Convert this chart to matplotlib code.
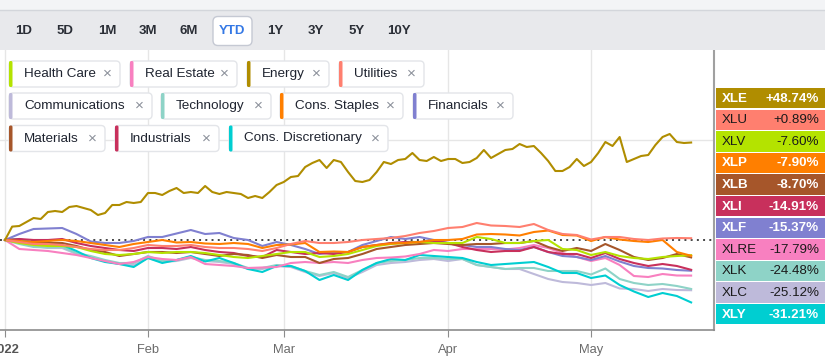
import numpy as np
import matplotlib
matplotlib.use('Agg')
import matplotlib.pyplot as plt
from matplotlib.patches import FancyBboxPatch, Rectangle

plt.rcParams['font.family'] = ['Liberation Sans', 'DejaVu Sans']

# YTD % change, Jan 3 .. May 20 2022 (trading-day index)
xle = [0, 6.7, 7.0, 9.0, 11.0, 10.5, 14.0, 14.5, 14.0, 16.5, 17.0, 16.0, 15.0, 12.5, 13.5,
       17.5, 17.5, 19.0, 18.5, 19.0, 23.5, 23.5, 22.5, 24.5, 26.0, 23.5, 24.0, 23.5, 27.0,
       24.0, 23.0, 24.0, 23.5, 23.0, 21.0, 22.0, 21.0, 24.0, 27.5, 29.0, 31.5, 32.0, 36.5,
       38.5, 40.0, 36.0, 40.0, 39.0, 34.0, 29.5, 29.0, 30.0, 34.0, 39.0, 38.0, 40.0, 40.5,
       43.5, 40.0, 39.5, 41.5, 39.5, 40.5, 40.5, 38.5, 39.0, 41.0, 45.0, 41.0, 43.0, 45.0,
       45.5, 48.0, 46.5, 47.0, 43.5, 39.5, 34.5, 34.5, 36.5, 40.5, 37.0, 39.0, 43.5, 49.0,
       47.0, 51.5, 39.0, 40.5, 42.0, 42.5, 47.5, 51.5, 53.0, 49.0, 48.5, 48.74]

# the other sectors, read every second trading day
xlu = [0, -1, -2, -2, -2.5, -3.5, -4.5, -5, -5, -4, -2.5, -3, -3, -2.5, -3.5, -4, -4, -4.5,
       -5.5, -4, -2, -0.5, -1.5, -1.5, -1, 0, 0.5, 1, 2, 3.5, 4.5, 6, 6.5, 8.5, 7.25, 7, 6.5,
       8, 5, 3, 2.5, 0.25, 1.5, 1.5, 0.5, 0, 0.75, 1, 0.89]
xlv = [0, -1.5, -2.5, -3, -3, -3.5, -5.5, -7, -7.5, -7, -6, -6.5, -6, -6, -6.5, -7.5, -8.5,
       -9, -8, -7, -6, -6, -8.5, -8, -7, -5, -3, -2, -1.5, -1, -1.5, -1.5, -1.5, 1.5, 0.5,
       -1.5, -1.5, -0.5, 0, -4.5, -5, -7.5, -6, -8, -9, -9.5, -8.5, -8, -7.6]
xlp = [0, -0.5, -1, -0.5, 0, -0.5, -1.5, -2.5, -3.5, -2, -1, 0, -1.25, -1, -1.75, -2, -1.5,
       -2, -4, -2.5, -2.25, -1.5, -6, -5.75, -6, -3.5, -2.5, -1.75, -1.5, -1, 0, 0, 0.5,
       2.75, 3, 2.75, 2.25, 4, 4.75, 2.5, 2.25, -0.5, 1.5, 0.25, -0.5, -1, 0, -6, -7.9]
xlb = [0, -1, -1.5, -1.5, -1.5, -3, -5, -6, -8, -7, -6, -6, -6.5, -6, -7, -8, -7, -7.5, -9,
       -7.5, -8.5, -8.5, -11.5, -9.5, -9, -7, -4.5, -3.5, -2.5, -2, -1.5, -2, -2.5, -2, -2,
       -1.5, -1.5, -0.5, -3.5, -5.5, -4, -5.5, -2, -5, -8.5, -10, -9, -7, -8.7]
xli = [0, 0.5, 0, 0, 0.5, -1.5, -3, -4, -5, -5.5, -4, -4, -4.5, -3.5, -5, -6, -6.5, -8, -8.5,
       -5, -6, -7, -6.5, -7, -6, -3.5, -2.5, -1.5, -1, -1, -0.5, -1.5, -3.5, -5, -6, -5.5,
       -5.5, -3.5, -6, -7, -7, -9, -6.5, -9.5, -11.5, -13, -12, -13, -14.91]
xlf = [0, 3.0, 5.5, 5.75, 6.0, 3.0, -0.75, -1.5, -1.5, -0.5, 1.5, 1.5, 3.25, 5.0, 3.0, 3.5,
       1.0, 0, -3, -1, -2.5, -4.5, -7, -6, -6, -2.5, -0.5, 1.5, 0.5, 1.5, 0, -1.5, -2.5, -3.5,
       -3.5, -4.5, -5, -3.5, -6, -8, -8.5, -10, -8, -10.75, -13, -14, -14.25, -15, -15.37]
xlre = [0, -4.5, -5, -5.5, -6.5, -7.5, -9, -10.5, -12, -11, -8.5, -9.5, -10, -8.5, -12, -12.5,
        -13, -14, -13.75, -13.5, -11.5, -11, -11.5, -11, -11.5, -10, -9, -8.75, -8.25, -7, -5,
        -5.5, -4.5, -4.5, -4.5, -4.75, -4, -2.5, -4, -6.5, -8.5, -10.5, -9, -12.5, -18, -18.5,
        -17, -17.75, -17.79]
xlk = [0, -2, -3.5, -3.75, -3.5, -6.5, -8, -10, -11.5, -11.5, -8, -10.5, -10, -8.5, -10,
       -10.5, -11.5, -14, -14, -12.5, -13, -15.5, -17.5, -16, -18.5, -15, -11.5, -10.5, -10,
       -9, -9, -9.5, -9.5, -12.5, -13.5, -14.5, -14, -14, -15.5, -15.5, -15.5, -17.25, -14.25,
       -19.5, -21.5, -22.5, -22, -23, -24.48]
xlc = [0, -1.5, -3, -4, -4, -7, -8.5, -10.5, -12, -12.5, -9, -11, -10.5, -9, -10.5, -11, -12,
       -14.5, -14.5, -13, -13.5, -16, -18, -16.5, -19, -16, -12.5, -11.5, -11, -10, -9.5,
       -10.5, -9.5, -12.5, -13.5, -14.5, -14.5, -17, -19.5, -21, -21.5, -22.5, -21.5, -24.25,
       -24.5, -25.5, -24.5, -25, -25.12]
xly = [0, 0.5, -1.25, -1, -2.5, -5.5, -9, -11, -12, -13.5, -9, -11.5, -10, -8, -10.75, -9,
       -11.5, -14.5, -16, -13, -13, -15.5, -20, -17.5, -20, -15, -11.5, -9.5, -10, -7.5, -8,
       -8.5, -9, -11, -12.5, -12, -11.5, -11, -13.5, -16.5, -16.5, -19, -17.75, -22.5, -25.75,
       -28.5, -26.5, -28, -31.21]

tickers = ['XLE', 'XLU', 'XLV', 'XLP', 'XLB', 'XLI', 'XLF', 'XLRE', 'XLK', 'XLC', 'XLY']
series = [xle, xlu, xlv, xlp, xlb, xli, xlf, xlre, xlk, xlc, xly]
colors = ['#b08d00', '#ff7f6f', '#b4e300', '#ff7f00', '#a6562a', '#c8305c',
          '#8080d0', '#f880c0', '#8ed3c7', '#bebada', '#00ced1']
light_bg = ['XLU', 'XLV', 'XLRE', 'XLK', 'XLC']

# legend chips: (name, color) per row
chip_rows = [
    [('Health Care', '#b4e300'), ('Real Estate', '#f880c0'), ('Energy', '#b08d00'),
     ('Utilities', '#ff7f6f')],
    [('Communications', '#bebada'), ('Technology', '#8ed3c7'), ('Cons. Staples', '#ff7f00'),
     ('Financials', '#8080d0')],
    [('Materials', '#a6562a'), ('Industrials', '#c8305c'), ('Cons. Discretionary', '#00ced1')],
]
# chip boxes (left px, width px) as laid out in the page
chip_boxes = [
    [(9, 111), (130, 107), (247, 82), (339, 85)],
    [(9, 143), (161, 110), (280, 123), (413, 100)],
    [(9, 96), (115, 104), (229, 159)],
]

ranges = ['1D', '5D', '1M', '3M', '6M', 'YTD', '1Y', '3Y', '5Y', '10Y']
month_ticks = [0, 20, 39, 62, 82]
month_labels = ['2022', 'Feb', 'Mar', 'Apr', 'May']

W, H = 825, 362
fig = plt.figure(figsize=(W / 100, H / 100), dpi=100)

# main plot axes in pixel terms: x 0..714, y 50..330
ax = fig.add_axes([0, (H - 330) / H, 714 / W, 280 / H])
ax.set_xlim(-0.7, 99.2)
ax.set_ylim(-45, 95)

for t in month_ticks:
    ax.axvline(t, color='#e6e6e6', lw=1, zorder=0)
ax.axhline(50, color='#e6e6e6', lw=1, zorder=0)
ax.axhline(0, color='#444444', lw=1.4, ls=(0, (1, 2.2)), zorder=1)

days_all = np.arange(len(xle))
days_half = np.arange(0, len(xle), 2)
draw_order = [9, 8, 10, 7, 6, 5, 4, 2, 3, 1, 0]
for i in draw_order:
    x = days_all if len(series[i]) == len(days_all) else days_half
    ax.plot(x, series[i], color=colors[i], lw=1.5, zorder=2, solid_joinstyle='round')

for s in ['left', 'top']:
    ax.spines[s].set_visible(False)
ax.spines['bottom'].set_color('#8c8c8c')
ax.spines['bottom'].set_linewidth(1.2)
ax.spines['right'].set_color('#a0a0a0')
ax.spines['right'].set_linewidth(1.5)
ax.set_yticks([])
ax.set_xticks(month_ticks)
ax.set_xticklabels(month_labels, fontsize=9.3, color='#6b6b6b')
ax.get_xticklabels()[0].set_fontweight('bold')
ax.get_xticklabels()[0].set_color('#555555')
ax.tick_params(axis='x', length=5, color='#8c8c8c', pad=5)

# overlay in pixel coordinates
ov = fig.add_axes([0, 0, 1, 1], zorder=5)
ov.set_xlim(0, W)
ov.set_ylim(H, 0)
ov.axis('off')
ov.patch.set_alpha(0)

# top bar
ov.add_patch(Rectangle((0, 0), W, 10, color='#f3f4f6', lw=0))
ov.add_patch(Rectangle((0, 10), W, 40, color='#e8e9ec', lw=0))
ov.plot([0, W], [10, 10], color='#d3d6db', lw=1)
range_x = [24, 65, 107, 148, 189, 232, 275, 316, 357, 399]
for name, x in zip(ranges, range_x):
    if name == 'YTD':
        ov.add_patch(FancyBboxPatch((213, 16.5), 39, 29, boxstyle='round,pad=0,rounding_size=5',
                                    fc='white', ec='#c5c9d3', lw=1))
        ov.text(x, 30.5, name, ha='center', va='center', fontsize=9.5, fontweight='bold',
                color='#3478e5')
    else:
        ov.text(x, 30.5, name, ha='center', va='center', fontsize=9.5, fontweight='bold',
                color='#2a2e36')

# legend chips
row_y = [61, 93, 125.5]
for r, chips in enumerate(chip_rows):
    y = row_y[r]
    for (name, c), (x, cw) in zip(chips, chip_boxes[r]):
        ov.add_patch(FancyBboxPatch((x, y), cw, 26, boxstyle='round,pad=0,rounding_size=4',
                                    fc='white', ec='#e3e5e9', lw=1, zorder=1))
        ov.add_patch(FancyBboxPatch((x, y), 3.5, 26, boxstyle='round,pad=0,rounding_size=1.5',
                                    fc=c, ec='none', zorder=2))
        ov.text(x + 15, y + 13, name, ha='left', va='center', fontsize=9.7,
                color='#1f2430', zorder=3)
        ov.text(x + cw - 13, y + 13, '\u00d7', ha='center', va='center', fontsize=11,
                color='#8a8f99', zorder=3)

# right label panel
for i, tk in enumerate(tickers):
    top = 88 + 21.6 * i
    ov.add_patch(Rectangle((716, top), W - 716, 20.3, color=colors[i], lw=0))
    dark = tk in light_bg
    tc = '#1a1a1a' if dark else 'white'
    fw = 'normal' if dark else 'bold'
    val = series[i][-1]
    ov.text(722, top + 10.5, tk, ha='left', va='center', fontsize=9.6, color=tc, fontweight=fw)
    ov.text(819, top + 10.5, f'{val:+.2f}%', ha='right', va='center', fontsize=9.6,
            color=tc, fontweight=fw)

fig.savefig('out.png', dpi=100)
